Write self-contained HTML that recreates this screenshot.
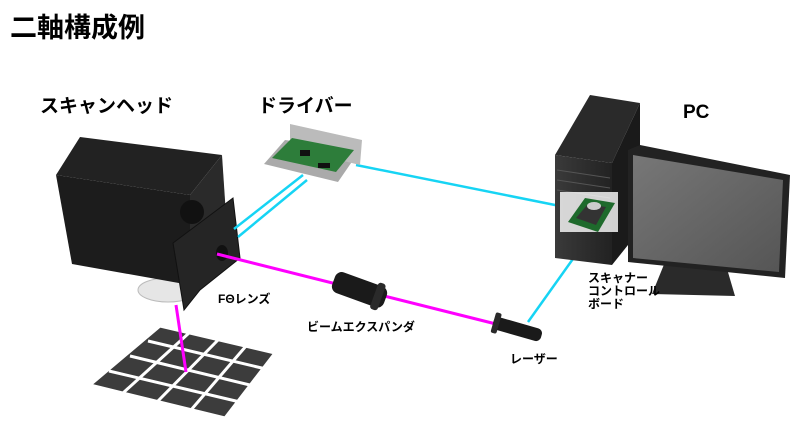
<!DOCTYPE html>
<html><head><meta charset="utf-8"><style>
html,body{margin:0;padding:0;background:#fff;}
svg{display:block;}
text{font-family:"Liberation Sans","Noto Sans CJK JP",sans-serif;font-weight:bold;fill:#000;}
</style></head><body>
<svg width="800" height="438" viewBox="0 0 800 438" xmlns="http://www.w3.org/2000/svg">
<defs>
<linearGradient id="mon" x1="0" y1="0" x2="1" y2="1"><stop offset="0" stop-color="#777"/><stop offset="1" stop-color="#555"/></linearGradient>
<linearGradient id="tow" x1="0" y1="0" x2="1" y2="0"><stop offset="0" stop-color="#3a3a3a"/><stop offset="1" stop-color="#222"/></linearGradient>
</defs>
<text x="10" y="37" font-size="27">二軸構成例</text>
<text x="40" y="112" font-size="19">スキャンヘッド</text>
<text x="258" y="112" font-size="19">ドライバー</text>
<text x="683" y="118" font-size="19">PC</text>

<!-- grid -->
<g fill="#3c3c3c" stroke="#fff" stroke-width="3">
<polygon points="160,326 275,353 225,418 90,385"/>
</g>
<g stroke="#fff" stroke-width="3">
<line x1="189" y1="333" x2="123" y2="393"/><line x1="218" y1="340" x2="157" y2="402"/><line x1="246" y1="346" x2="191" y2="410"/>
<line x1="148" y1="341" x2="266" y2="369"/><line x1="130" y1="356" x2="254" y2="386"/><line x1="109" y1="371" x2="240" y2="402"/>
</g>

<!-- lens disk -->
<ellipse cx="168" cy="290" rx="30" ry="12" fill="#e6e6e6" stroke="#bbb"/>
<!-- scanner head -->
<polygon points="56,175 80,137 222,155 190,195" fill="#222"/>
<polygon points="56,175 190,195 190,285 72,264" fill="#1c1c1c"/>
<polygon points="190,195 222,155 226,215 190,255" fill="#2a2a2a"/>
<circle cx="192" cy="212" r="12" fill="#111"/>
<polygon points="173,243 233,198 240,258 200,290 184,310" fill="#252525" stroke="#111"/>
<ellipse cx="222" cy="253" rx="6" ry="8" fill="#111"/>

<!-- beams -->
<polyline points="176,305 186,372" stroke="#f0f" stroke-width="3" fill="none"/>
<line x1="217" y1="254" x2="500" y2="325" stroke="#f0f" stroke-width="3"/>
<line x1="234" y1="229" x2="303" y2="175" stroke="#16d4f4" stroke-width="2.5"/>
<line x1="238" y1="237" x2="307" y2="180" stroke="#16d4f4" stroke-width="2.5"/>
<line x1="356" y1="165" x2="560" y2="206" stroke="#16d4f4" stroke-width="2.5"/>
<line x1="590" y1="235" x2="528" y2="322" stroke="#16d4f4" stroke-width="2.5"/>

<!-- driver -->
<polygon points="264,164 285,140 360,150 338,182" fill="#aaa"/>
<polygon points="290,124 362,140 360,165 290,148" fill="#bbb"/>
<polygon points="272,158 292,138 354,150 336,172" fill="#2d7d3a"/>
<rect x="300" y="150" width="10" height="6" fill="#111"/><rect x="318" y="163" width="12" height="5" fill="#111"/>

<!-- expander -->
<g transform="rotate(20 360 290)"><rect x="332" y="279" width="55" height="22" rx="7" fill="#1a1a1a"/><rect x="375" y="276" width="8" height="28" rx="3" fill="#2a2a2a"/></g>
<!-- laser -->
<g transform="rotate(16 515 330)"><rect x="492" y="322" width="50" height="13" rx="5" fill="#1a1a1a"/><rect x="492" y="318" width="6" height="21" rx="2" fill="#2a2a2a"/></g>

<!-- tower -->
<polygon points="555,155 590,95 640,103 612,163" fill="#2a2a2a"/>
<polygon points="555,155 612,163 612,265 555,258" fill="url(#tow)"/>
<polygon points="612,163 640,103 640,230 612,265" fill="#1a1a1a"/>
<g stroke="#555"><line x1="557" y1="170" x2="610" y2="178"/><line x1="557" y1="180" x2="610" y2="188"/><line x1="557" y1="190" x2="610" y2="198"/></g>
<!-- card -->
<rect x="560" y="192" width="58" height="40" fill="#fff" opacity="0.8"/>
<polygon points="568,222 585,198 615,203 598,232" fill="#1e6a2c"/>
<polygon points="576,218 588,204 606,207 596,225" fill="#333"/>
<ellipse cx="594" cy="206" rx="7" ry="4" fill="#ccc"/>
<!-- monitor -->
<polygon points="665,262 725,262 735,296 652,294" fill="#2a2a2a"/>
<polygon points="628,150 640,145 790,175 785,278 628,262" fill="#222"/>
<polygon points="633,155 783,180 779,272 633,258" fill="url(#mon)"/>

<text x="218" y="303" font-size="12">FΘレンズ</text>
<text x="307" y="331" font-size="12">ビームエクスパンダ</text>
<text x="510" y="363" font-size="12">レーザー</text>
<text x="588" y="282" font-size="12">スキャナー</text>
<text x="588" y="295" font-size="12">コントロール</text>
<text x="588" y="308" font-size="12">ボード</text>
</svg>
</body></html>
